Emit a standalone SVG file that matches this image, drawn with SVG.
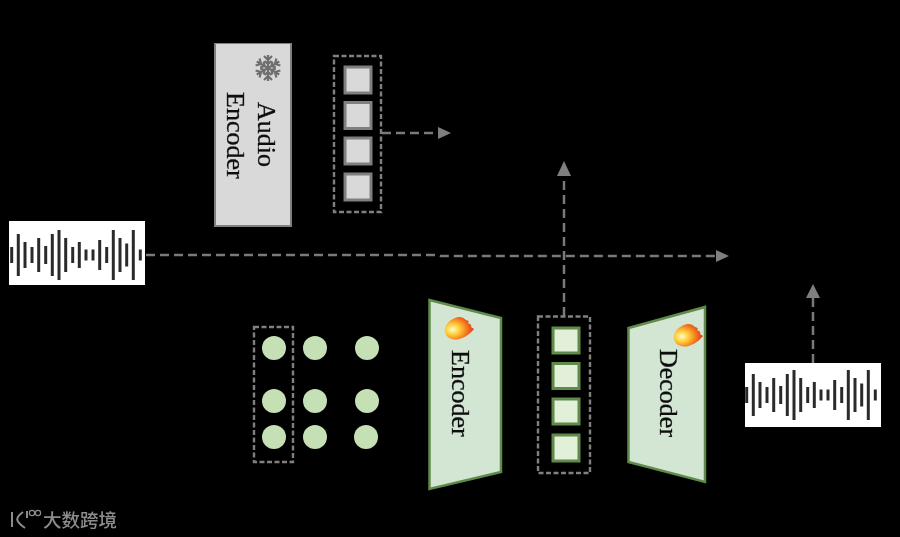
<svg xmlns="http://www.w3.org/2000/svg" xmlns:xlink="http://www.w3.org/1999/xlink" width="900" height="537" viewBox="0 0 900 537">
  <style>
    .lbl{font-family:"Liberation Serif","Times New Roman",serif;font-size:26px;fill:#111;stroke:#111;stroke-width:.3}
    .dash{fill:none;stroke:#808080;stroke-width:2.400;stroke-dasharray:5 2.500}
    .conn{fill:none;stroke:#7a7a7a;stroke-width:2.500;stroke-dasharray:9 5}
    .head{fill:#7f7f7f}
    .gs{fill:#d9d9d9;stroke:#7f7f7f;stroke-width:3}
    .gr{fill:#e2f0d9;stroke:#5f8a4a;stroke-width:3}
    .tr{fill:#d2e6d3;stroke:#5f8a4a;stroke-width:2.500}
    .dot{fill:#c5e0b4}
    .wave line{stroke:#2a2a2a;stroke-width:3;stroke-linecap:butt}
    .mark{font-family:"Noto Sans CJK SC","Noto Sans",sans-serif;font-size:18.500px;font-weight:500;fill:#8c8c8c}
  </style>
  <defs>
    <filter id="soft" x="0" y="0" width="100%" height="100%"><feGaussianBlur stdDeviation="0.550"/></filter>
    <radialGradient id="fire" gradientUnits="objectBoundingBox" cx="0.27" cy="0.55" r="0.75">
      <stop offset="0" stop-color="#fffbd0"/>
      <stop offset="0.3" stop-color="#ffd23c"/>
      <stop offset="0.65" stop-color="#f57a1e"/>
      <stop offset="1" stop-color="#d8301a"/>
    </radialGradient>
    <path id="flame" fill="url(#fire)" d="M-4 -11C0 -13 4 -12 7 -9C9 -8 11 -8 9 -6C12 -5 13 -3 12 -2L15 0C12 3 9 7 3 9C-3 12 -12 11 -14 3C-15 -3 -10 -9 -4 -11Z"/>
    <g id="wave" class="wave">
      <line x1="11.700" y1="-8" x2="11.700" y2="8"/><line x1="18.300" y1="-21" x2="18.300" y2="21"/><line x1="25" y1="-13" x2="25" y2="13"/><line x1="32" y1="-8" x2="32" y2="8"/><line x1="38.700" y1="-17" x2="38.700" y2="17"/><line x1="45.700" y1="-9" x2="45.700" y2="9"/><line x1="52.300" y1="-21" x2="52.300" y2="21"/><line x1="59" y1="-25" x2="59" y2="25"/><line x1="65.700" y1="-17" x2="65.700" y2="17"/><line x1="72.700" y1="-8" x2="72.700" y2="8"/><line x1="79.300" y1="-13" x2="79.300" y2="13"/><line x1="86" y1="-5.500" x2="86" y2="5.500"/><line x1="93" y1="-5.500" x2="93" y2="5.500"/><line x1="99.700" y1="-15" x2="99.700" y2="15"/><line x1="106.700" y1="-8" x2="106.700" y2="8"/><line x1="113.300" y1="-25" x2="113.300" y2="25"/><line x1="120" y1="-17" x2="120" y2="17"/><line x1="126.700" y1="-11.500" x2="126.700" y2="11.500"/><line x1="133.300" y1="-25" x2="133.300" y2="25"/><line x1="140.300" y1="-5.500" x2="140.300" y2="5.500"/>
    </g>
    <g id="arm"><path d="M0 0V-13M0 -8L-4 -12M0 -8L4 -12M0 -4L-3.500 -7M0 -4L3.500 -7"/></g>
  </defs>
  <rect width="900" height="537" fill="#000"/>
  <g filter="url(#soft)">

  <g id="connectors">
    <path class="conn" d="M146 255H437L440 256H716"/>
    <polygon class="head" points="716,250 729,256 716,262"/>
    <path class="conn" d="M382 133H438"/>
    <polygon class="head" points="438,127 451,133 438,139"/>
    <path class="conn" d="M564 316V176"/>
    <polygon class="head" points="557,176 564,161 571,176"/>
    <path class="conn" d="M813 363V298"/>
    <polygon class="head" points="806,298 813,284 820,298"/>
  </g>

  <g id="audio-encoder">
    <rect x="215" y="43" width="76" height="183" fill="#d9d9d9" stroke="#7f7f7f" stroke-width="2"/>
    <g transform="translate(268,68)" stroke="#6e6e6e" stroke-width="2.200" fill="none">
      <use xlink:href="#arm"/><use xlink:href="#arm" transform="rotate(60)"/><use xlink:href="#arm" transform="rotate(120)"/><use xlink:href="#arm" transform="rotate(180)"/><use xlink:href="#arm" transform="rotate(240)"/><use xlink:href="#arm" transform="rotate(300)"/>
    </g>
    <text class="lbl" transform="translate(258,102) rotate(90)">Audio</text>
    <text class="lbl" transform="translate(227,92) rotate(90)">Encoder</text>
  </g>

  <g id="audio-features">
    <rect class="dash" x="334" y="56" width="47" height="156"/>
    <rect class="gs" x="345" y="67" width="26" height="26"/>
    <rect class="gs" x="345" y="102.500" width="26" height="26"/>
    <rect class="gs" x="345" y="138" width="26" height="26"/>
    <rect class="gs" x="345" y="174" width="26" height="26"/>
  </g>

  <g id="input-wave">
    <rect x="9" y="221" width="136" height="64" fill="#fff"/>
    <use xlink:href="#wave" transform="translate(0,255)"/>
  </g>

  <g id="input-dots">
    <rect class="dash" x="254" y="327" width="39" height="135"/>
    <circle class="dot" cx="274" cy="348" r="12"/>
    <circle class="dot" cx="315" cy="348" r="12"/>
    <circle class="dot" cx="367" cy="348" r="12"/>
    <circle class="dot" cx="274" cy="401" r="12"/>
    <circle class="dot" cx="315" cy="401" r="12"/>
    <circle class="dot" cx="367" cy="401" r="12"/>
    <circle class="dot" cx="274" cy="437" r="12"/>
    <circle class="dot" cx="315" cy="437" r="12"/>
    <circle class="dot" cx="366" cy="437" r="12"/>
  </g>

  <g id="encoder">
    <polygon class="tr" points="429.500,300 501,318 501,472 429.500,489"/>
    <use xlink:href="#flame" transform="translate(459,329)"/>
    <text class="lbl" transform="translate(452,350) rotate(90)">Encoder</text>
  </g>

  <g id="latent">
    <rect class="dash" x="538" y="316.500" width="52" height="156.500"/>
    <rect class="gr" x="553" y="328" width="26" height="25"/>
    <rect class="gr" x="553" y="363.500" width="26" height="25"/>
    <rect class="gr" x="553" y="399" width="26" height="25"/>
    <rect class="gr" x="553" y="435" width="26" height="26"/>
  </g>

  <g id="decoder">
    <polygon class="tr" points="628.500,328 705,307 705,482 628.500,462"/>
    <use xlink:href="#flame" transform="translate(688,336)"/>
    <text class="lbl" transform="translate(660,349) rotate(90)">Decoder</text>
  </g>

  <g id="output-wave">
    <rect x="745" y="363" width="136" height="64" fill="#fff"/>
    <use xlink:href="#wave" transform="translate(735,395)"/>
  </g>

  <g id="watermark">
    <path d="M12 512V527M23 512C15 518 15 521 25 528M27 511V518" fill="none" stroke="#8c8c8c" stroke-width="2"/>
    <circle cx="32" cy="513" r="2.600" fill="none" stroke="#8c8c8c" stroke-width="1.200"/>
    <circle cx="38" cy="513" r="2.600" fill="none" stroke="#8c8c8c" stroke-width="1.200"/>
    <text class="mark" x="43" y="527">大数跨境</text>
  </g>
  </g>
</svg>
